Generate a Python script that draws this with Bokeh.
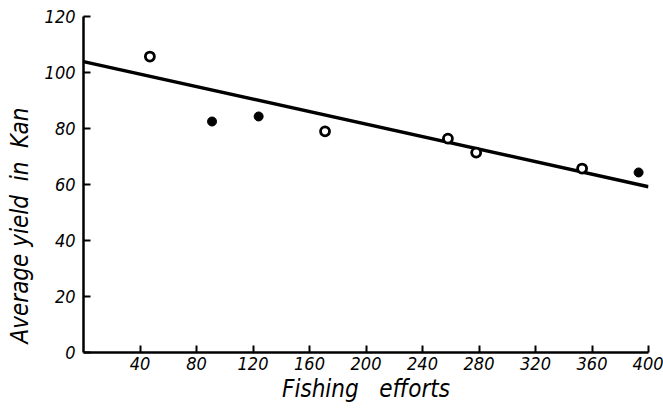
from bokeh.plotting import figure
from bokeh.models import FixedTicker, Range1d
from bokeh.embed import file_html
from bokeh.resources import INLINE

# data
effort_open = [47, 171, 258, 278, 353]
yield_open = [105.7, 79.0, 76.4, 71.4, 65.7]
effort_filled = [91, 124, 393]
yield_filled = [82.5, 84.3, 64.3]
fit_x = [0, 400]
fit_y = [103.9, 59.2]
x_ticks = [40, 80, 120, 160, 200, 240, 280, 320, 360, 400]
y_ticks = [0, 20, 40, 60, 80, 100, 120]

FONT = "DejaVu Sans Condensed"

p = figure(width=663, height=416, output_backend="svg", toolbar_location=None,
           x_range=Range1d(0, 400), y_range=Range1d(0, 120),
           min_border_left=83, min_border_right=15, min_border_top=16, min_border_bottom=64)
p.outline_line_color = None
p.xgrid.grid_line_color = None
p.ygrid.grid_line_color = None

p.line(fit_x, fit_y, line_color="black", line_width=3.4)
p.scatter(effort_open, yield_open, size=9, fill_color="white", line_color="black", line_width=2.8)
p.scatter(effort_filled, yield_filled, size=9, fill_color="black", line_color="black")

for ax in (p.xaxis[0], p.yaxis[0]):
    ax.axis_line_width = 2.5
    ax.axis_line_color = "black"
    ax.major_tick_in = 7
    ax.major_tick_out = 0
    ax.major_tick_line_width = 2
    ax.minor_tick_line_color = None
    ax.major_label_text_font = FONT
    ax.major_label_text_font_style = "italic"
    ax.major_label_text_font_size = "18px"
    ax.major_label_text_color = "black"
    ax.axis_label_text_font = FONT
    ax.axis_label_text_font_style = "italic"
    ax.axis_label_text_font_size = "24px"
    ax.axis_label_text_color = "black"

p.xaxis.ticker = FixedTicker(ticks=x_ticks)
p.yaxis.ticker = FixedTicker(ticks=y_ticks)
p.xaxis.axis_label = "Fishing\u00a0\u00a0\u00a0efforts"
p.yaxis.axis_label = "Average\u00a0yield\u00a0\u00a0in\u00a0\u00a0Kan" + "\u00a0" * 12
p.xaxis.major_label_standoff = 4
p.yaxis.major_label_standoff = 8
p.xaxis.axis_label_standoff = 2
p.yaxis.axis_label_standoff = 8

open("out.html", "w").write(file_html(p, INLINE))
